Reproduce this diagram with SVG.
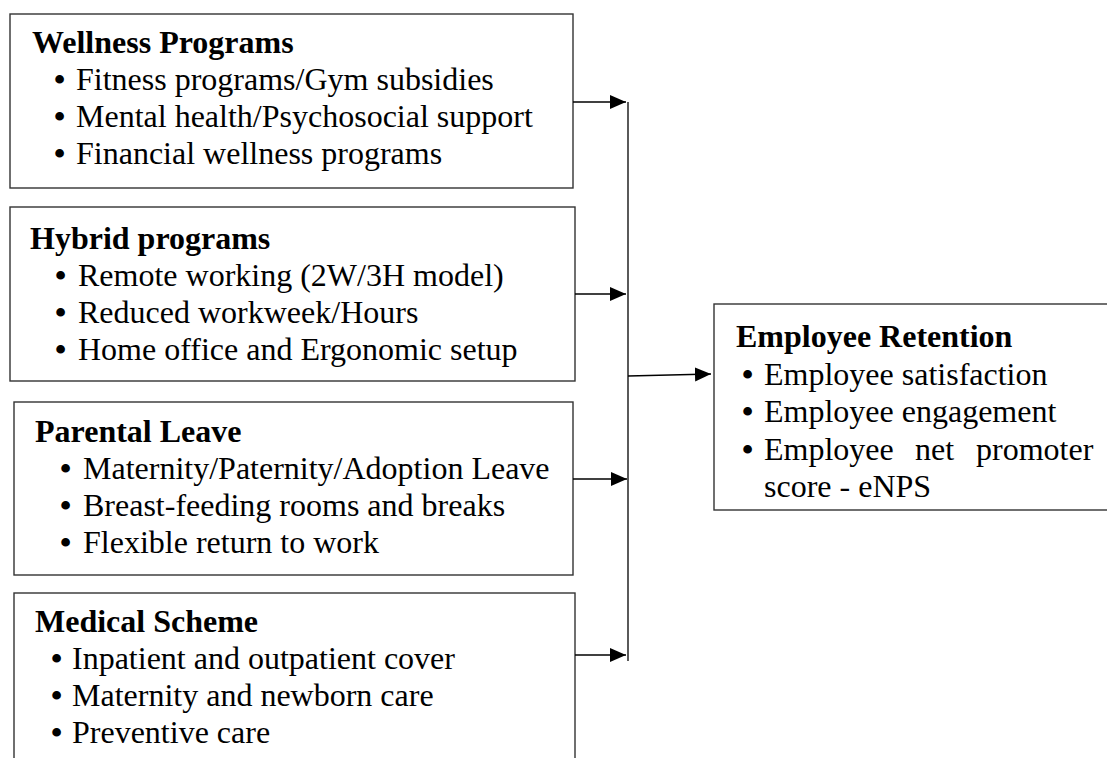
<svg xmlns="http://www.w3.org/2000/svg" width="1107" height="758" viewBox="0 0 1107 758">
<style>
.box{fill:#fff;stroke:#333;stroke-width:1.4}
.h{font-family:"Liberation Serif","Times New Roman",serif;font-size:32px;font-weight:bold;fill:#000}
.t{font-family:"Liberation Serif","Times New Roman",serif;font-size:32px;fill:#000}
.b{font-family:"Liberation Serif","Times New Roman",serif;font-size:32px;font-weight:bold;fill:#000}
.c{stroke:#000;stroke-width:1.3;fill:none}
</style>
<defs>
<marker id="ah" markerUnits="userSpaceOnUse" markerWidth="17" markerHeight="15" refX="16" refY="7" orient="auto">
<path d="M0,0 L16,7 L0,14 z" fill="#000"/>
</marker>
</defs>
<rect width="1107" height="758" fill="#fff"/>
<g id="wellness">
<rect class="box" x="10" y="14" width="563" height="174"/>
<text class="h" x="32" y="53">Wellness Programs</text>
<text class="b" x="54" y="90">•</text><text class="t" x="76" y="90">Fitness programs/Gym subsidies</text>
<text class="b" x="54" y="127">•</text><text class="t" x="76" y="127">Mental health/Psychosocial support</text>
<text class="b" x="54" y="164">•</text><text class="t" x="76" y="164">Financial wellness programs</text>
</g>
<g id="hybrid">
<rect class="box" x="10" y="207" width="565" height="174"/>
<text class="h" x="30" y="249">Hybrid programs</text>
<text class="b" x="55" y="286">•</text><text class="t" x="78" y="286">Remote working (2W/3H model)</text>
<text class="b" x="55" y="323">•</text><text class="t" x="78" y="323">Reduced workweek/Hours</text>
<text class="b" x="55" y="360">•</text><text class="t" x="78" y="360">Home office and Ergonomic setup</text>
</g>
<g id="parental">
<rect class="box" x="14" y="402" width="559" height="173"/>
<text class="h" x="35" y="442">Parental Leave</text>
<text class="b" x="60" y="479">•</text><text class="t" x="83" y="479">Maternity/Paternity/Adoption Leave</text>
<text class="b" x="60" y="516">•</text><text class="t" x="83" y="516">Breast-feeding rooms and breaks</text>
<text class="b" x="60" y="553">•</text><text class="t" x="83" y="553">Flexible return to work</text>
</g>
<g id="medical">
<rect class="box" x="14" y="593" width="561" height="180"/>
<text class="h" x="35" y="632">Medical Scheme</text>
<text class="b" x="51" y="669">•</text><text class="t" x="72" y="669">Inpatient and outpatient cover</text>
<text class="b" x="51" y="706">•</text><text class="t" x="72" y="706">Maternity and newborn care</text>
<text class="b" x="51" y="743">•</text><text class="t" x="72" y="743">Preventive care</text>
</g>
<g id="retention">
<rect class="box" x="714" y="304" width="410" height="206"/>
<text class="h" x="736" y="347">Employee Retention</text>
<text class="b" x="742" y="385">•</text><text class="t" x="764" y="385">Employee satisfaction</text>
<text class="b" x="742" y="422">•</text><text class="t" x="764" y="422">Employee engagement</text>
<text class="b" x="742" y="460">•</text><text class="t" x="764" y="460">Employee</text><text class="t" x="915" y="460">net</text><text class="t" x="976" y="460">promoter</text>
<text class="t" x="764" y="497">score - eNPS</text>
</g>
<g id="connectors">
<line class="c" x1="573" y1="102" x2="626" y2="102" marker-end="url(#ah)"/>
<line class="c" x1="575" y1="294" x2="626" y2="294" marker-end="url(#ah)"/>
<line class="c" x1="573" y1="479" x2="627" y2="479" marker-end="url(#ah)"/>
<line class="c" x1="575" y1="655" x2="626" y2="655" marker-end="url(#ah)"/>
<line class="c" x1="628" y1="102" x2="628" y2="661"/>
<line class="c" x1="628" y1="376" x2="711" y2="374" marker-end="url(#ah)"/>
</g>
</svg>
